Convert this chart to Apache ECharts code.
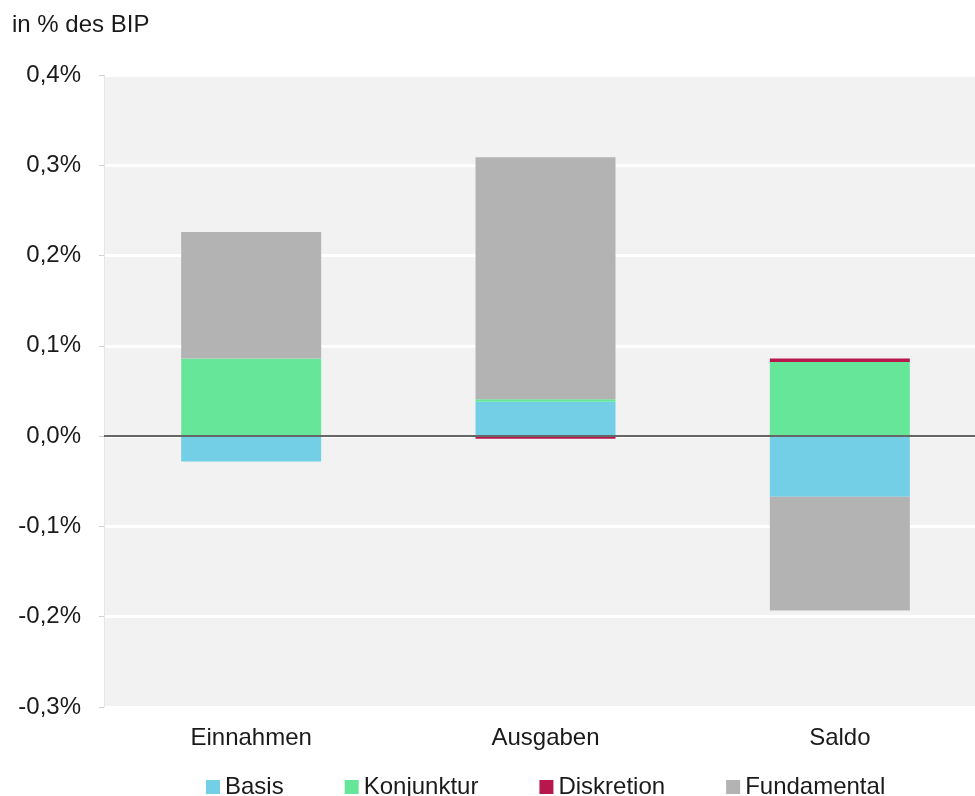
<!DOCTYPE html>
<html>
<head>
<meta charset="utf-8">
<script src="https://cdn.jsdelivr.net/npm/echarts@6/dist/echarts.min.js"></script>
<style>
  html, body { margin: 0; padding: 0; background: #fff; overflow: hidden; }
  #chart { width: 990px; height: 796px; }
</style>
</head>
<body>
<div id="chart"></div>
<script>
// Kategorien und Werte (in % des BIP)
const categories = ['Einnahmen', 'Ausgaben', 'Saldo'];
const basis = [-0.028, 0.038, -0.067];
const konjunktur = [0.086, 0.003, 0.082];
const diskretion = [0, -0.003, 0.004];
const fundamental = [0.140, 0.268, -0.126];
const yTicks = [-0.3, -0.2, -0.1, 0, 0.1, 0.2, 0.3, 0.4];

const font = 'Liberation Sans';
const chart = echarts.init(document.getElementById('chart'));

function bar(name, data, color) {
  return {
    name: name,
    type: 'bar',
    stack: 'total',
    barWidth: 140,
    data: data,
    itemStyle: { color: color },
    emphasis: { disabled: true }
  };
}

const series = [
  bar('Basis', basis, '#72cfe5'),
  bar('Konjunktur', konjunktur, '#66e699'),
  bar('Diskretion', diskretion, '#b8174e'),
  bar('Fundamental', fundamental, '#b3b3b3')
];
// Nulllinie über den Balken
series[3].markLine = {
  silent: true,
  symbol: 'none',
  label: { show: false },
  lineStyle: { color: '#666666', width: 2, type: 'solid' },
  data: [{ yAxis: 0 }],
  z: 10
};

const option = {
  animation: false,
  backgroundColor: '#ffffff',
  title: {
    text: 'in % des BIP',
    left: 12,
    top: 13,
    padding: 0,
    textStyle: { fontFamily: font, fontSize: 24, fontWeight: 'normal', color: '#1a1a1a' }
  },
  grid: {
    left: 104,
    top: 75,
    width: 883,
    height: 632,
    show: true,
    backgroundColor: '#f2f2f2',
    borderWidth: 0
  },
  legend: {
    left: 206,
    top: 775,
    itemWidth: 14,
    itemHeight: 14,
    itemGap: 61,
    icon: 'rect',
    padding: 0,
    data: ['Basis', 'Konjunktur', 'Diskretion', 'Fundamental'],
    textStyle: { fontFamily: font, fontSize: 24, color: '#1a1a1a', padding: [0, 0, 0, 0] }
  },
  xAxis: {
    type: 'category',
    data: categories,
    axisLine: { show: false, onZero: false },
    axisTick: { show: false },
    axisLabel: { fontFamily: font, fontSize: 24, color: '#1a1a1a', margin: 19 }
  },
  yAxis: {
    type: 'value',
    min: yTicks[0],
    max: yTicks[yTicks.length - 1],
    interval: 0.1,
    axisLine: { show: true, lineStyle: { color: '#e6e6e6', width: 1 } },
    axisTick: { show: true, length: 5, lineStyle: { color: '#d0d0d0' } },
    axisLabel: {
      fontFamily: font,
      fontSize: 24,
      color: '#1a1a1a',
      margin: 23,
      formatter: function (v) {
        return v.toFixed(1).replace('.', ',') + '%';
      }
    },
    splitLine: { show: true, lineStyle: { color: '#ffffff', width: 3 } }
  },
  series: series
};

chart.setOption(option);
</script>
</body>
</html>
